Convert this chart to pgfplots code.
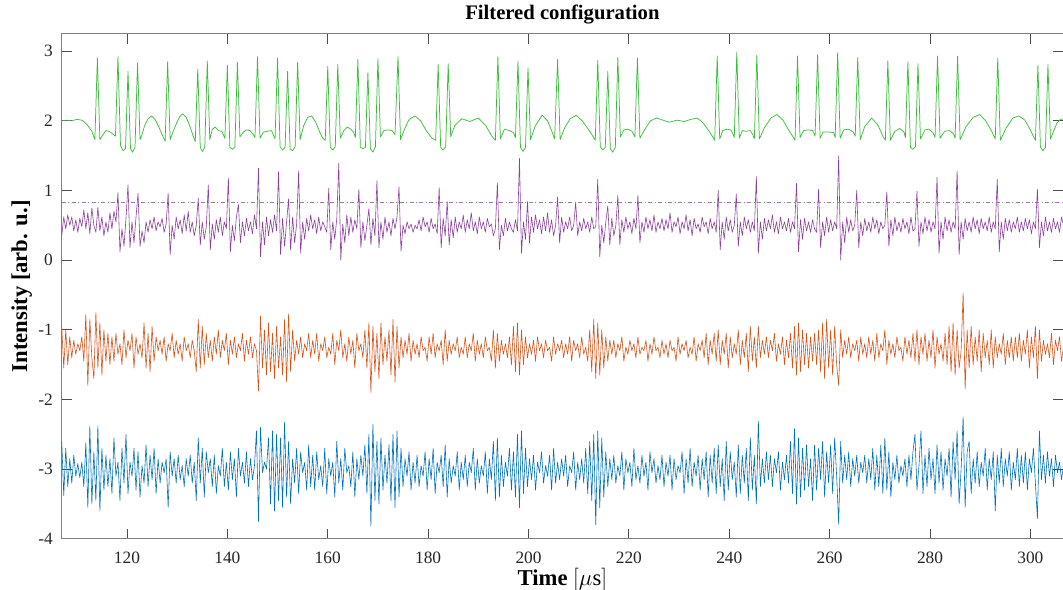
\documentclass[border=0pt]{standalone}
\usepackage{pgfplots}
\pgfplotsset{compat=1.18}
\usepackage{fontspec}
\setmainfont{Liberation Serif}
\definecolor{mblue}{rgb}{0,0.447,0.741}
\definecolor{morange}{rgb}{0.85,0.325,0.098}
\definecolor{mpurple}{rgb}{0.55,0.25,0.62}
\definecolor{mgreen}{rgb}{0.22,0.75,0.22}
\begin{document}
\begin{tikzpicture}
\begin{axis}[name=ax,
  scale only axis, width=750.75pt, height=378.75pt,
  xmin=107, xmax=306.5, ymin=-4, ymax=3.25,
  xtick={120,140,...,300}, ytick={-4,-3,...,3},
  tick align=inside, major tick length=7.5pt,
  axis line style={black!50, line width=0.6pt},
  tick style={black!70, line width=0.6pt},
  ticklabel style={font=\fontsize{13}{15}\selectfont, text=black!85},
  xticklabel style={anchor=base, inner sep=0pt, yshift=-18.75pt},
  yticklabel style={anchor=east, inner sep=0pt, xshift=-6.5pt},
  /pgf/number format/assume math mode=true,
  title={\textbf{Filtered configuration}},
  title style={at={(axis description cs:0.5,1.0132)}, anchor=base, inner sep=0pt, font=\fontsize{15.5}{18}\selectfont},
  xlabel={\textbf{Time} $[\mu\mathrm{s}]$},
  xlabel style={at={(axis description cs:0.5,-0.0925)}, anchor=base, inner sep=0pt, font=\fontsize{17}{20}\selectfont},
  ylabel={\textbf{Intensity [arb. u.]}},
  ylabel style={at={(axis description cs:-0.03463,0.5)}, anchor=base, inner sep=0pt, font=\fontsize{17}{20}\selectfont},
  every axis plot/.append style={line width=0.45pt, line join=round},
]
% blue
\addplot[mblue] table[x expr=107+0.4*\coordindex, y index=0, header=false, row sep=\\] {
-2.60\\-3.38\\-2.70\\-3.25\\-2.85\\-3.20\\-2.80\\-3.10\\-2.92\\-3.12\\-2.90\\-3.25\\-2.62\\-3.55\\-2.38\\-3.50\\-2.75\\-3.45\\-2.38\\-3.60\\-2.70\\-3.30\\-2.80\\-3.25\\-2.85\\
-3.35\\-2.55\\-3.10\\-2.90\\-3.45\\-2.70\\-3.20\\-2.50\\-3.35\\-2.90\\-3.10\\-2.70\\-3.30\\-2.75\\-3.40\\-2.95\\-3.20\\-2.65\\-3.25\\-2.80\\-3.15\\-2.70\\-3.35\\-2.85\\-3.20\\
-2.90\\-3.05\\-2.85\\-3.55\\-2.75\\-3.10\\-2.85\\-3.20\\-2.80\\-3.15\\-2.95\\-3.25\\-2.85\\-3.10\\-2.80\\-3.20\\-2.90\\-3.45\\-2.55\\-3.20\\-2.70\\-3.40\\-2.75\\-3.05\\-2.85\\
-3.25\\-2.80\\-3.35\\-2.95\\-3.10\\-2.70\\-3.25\\-2.90\\-3.30\\-2.75\\-3.15\\-2.85\\-3.40\\-2.70\\-3.10\\-2.90\\-3.20\\-2.75\\-3.25\\-2.85\\-3.15\\-2.95\\-2.45\\-3.75\\-2.40\\
-3.05\\-2.90\\-3.00\\-2.55\\-3.50\\-2.45\\-3.60\\-2.50\\-3.45\\-2.55\\-3.55\\-2.32\\-3.40\\-2.60\\-3.50\\-2.85\\-3.20\\-2.70\\-3.35\\-2.75\\-3.05\\-2.90\\-3.30\\-2.65\\-3.25\\
-2.80\\-3.30\\-2.75\\-3.15\\-2.95\\-3.25\\-2.70\\-3.35\\-2.85\\-3.10\\-2.90\\-3.40\\-2.60\\-3.20\\-2.85\\-3.30\\-2.70\\-3.05\\-2.95\\-3.25\\-2.75\\-3.40\\-2.85\\-3.15\\-2.80\\
-3.10\\-2.65\\-3.35\\-2.50\\-3.82\\-2.35\\-3.45\\-2.60\\-3.50\\-2.55\\-3.30\\-2.80\\-3.20\\-2.65\\-3.45\\-2.50\\-3.55\\-2.45\\-3.40\\-2.70\\-3.25\\-2.85\\-3.10\\-2.75\\-3.30\\
-2.90\\-3.20\\-2.80\\-3.25\\-2.95\\-3.10\\-2.75\\-3.30\\-2.85\\-3.15\\-2.70\\-3.35\\-2.90\\-3.05\\-2.80\\-3.25\\-2.65\\-3.40\\-2.85\\-3.20\\-2.95\\-3.10\\-2.75\\-3.30\\-2.90\\
-3.15\\-2.80\\-3.25\\-2.90\\-3.05\\-2.70\\-3.30\\-2.85\\-3.20\\-2.95\\-3.10\\-2.75\\-3.35\\-2.85\\-3.15\\-2.60\\-3.45\\-2.55\\-3.40\\-2.80\\-3.25\\-2.90\\-3.10\\-2.70\\-3.30\\
-2.75\\-3.40\\-2.50\\-3.55\\-2.45\\-3.35\\-2.70\\-3.25\\-2.85\\-3.15\\-2.80\\-3.30\\-2.90\\-3.05\\-2.75\\-3.20\\-2.95\\-3.10\\-2.80\\-3.30\\-2.70\\-3.20\\-2.90\\-3.15\\-2.85\\
-3.10\\-2.80\\-3.25\\-2.95\\-3.05\\-2.75\\-3.30\\-2.90\\-3.15\\-2.85\\-3.20\\-2.70\\-3.35\\-2.60\\-3.45\\-2.50\\-3.80\\-2.45\\-3.55\\-2.55\\-3.40\\-2.75\\-3.25\\-2.85\\-3.15\\
-2.80\\-3.20\\-2.95\\-3.10\\-2.75\\-3.30\\-2.85\\-3.05\\-2.90\\-3.25\\-2.70\\-3.15\\-2.95\\-3.20\\-2.80\\-3.10\\-2.90\\-3.30\\-2.75\\-3.05\\-2.85\\-3.20\\-2.95\\-3.15\\-2.80\\
-3.25\\-2.90\\-3.10\\-2.80\\-3.30\\-2.85\\-3.15\\-2.95\\-3.05\\-2.75\\-3.35\\-2.85\\-3.20\\-2.70\\-3.25\\-2.90\\-3.10\\-2.80\\-3.30\\-2.85\\-3.15\\-2.75\\-3.40\\-2.80\\-3.20\\
-2.70\\-3.35\\-2.65\\-3.25\\-2.85\\-3.45\\-2.60\\-3.30\\-2.75\\-3.15\\-2.90\\-3.40\\-2.65\\-3.35\\-2.80\\-3.20\\-2.70\\-3.45\\-2.55\\-3.30\\-2.80\\-3.50\\-2.31\\-3.25\\-2.85\\
-3.20\\-2.75\\-3.15\\-2.80\\-3.25\\-2.85\\-3.05\\-2.75\\-3.30\\-2.90\\-3.15\\-2.80\\-3.20\\-2.60\\-3.35\\-2.42\\-3.50\\-2.55\\-3.40\\-2.70\\-3.30\\-2.65\\-3.25\\-2.85\\-3.45\\
-2.65\\-3.30\\-2.70\\-3.15\\-2.60\\-3.40\\-2.75\\-3.20\\-2.65\\-3.35\\-2.55\\-3.10\\-3.79\\-2.60\\-3.20\\-2.80\\-3.15\\-2.75\\-3.25\\-2.85\\-3.10\\-2.80\\-3.20\\-2.90\\-3.05\\
-2.80\\-3.20\\-2.85\\-3.15\\-2.70\\-3.30\\-2.80\\-3.25\\-2.65\\-3.35\\-2.55\\-3.30\\-2.75\\-3.40\\-2.90\\-3.15\\-2.80\\-3.20\\-2.95\\-3.10\\-2.85\\-3.25\\-2.80\\-3.15\\-2.75\\
-2.50\\-3.30\\-2.95\\-2.45\\-3.35\\-2.80\\-3.25\\-2.70\\-3.15\\-2.85\\-3.35\\-2.65\\-3.20\\-2.75\\-3.30\\-2.85\\-3.10\\-2.70\\-3.40\\-2.60\\-3.15\\-2.45\\-3.50\\-3.00\\-2.25\\
-3.55\\-2.75\\-2.60\\-3.35\\-2.85\\-3.20\\-2.75\\-3.25\\-2.90\\-3.10\\-2.70\\-3.30\\-2.85\\-3.15\\-2.75\\-3.60\\-2.80\\-3.20\\-2.70\\-3.25\\-2.85\\-3.10\\-2.75\\-3.30\\-2.90\\
-3.15\\-2.70\\-3.25\\-2.80\\-3.20\\-2.75\\-3.30\\-2.85\\-3.05\\-2.70\\-3.20\\-3.71\\-2.45\\-3.15\\-2.80\\-3.20\\-2.75\\-3.10\\-2.85\\-3.25\\-2.80\\-3.05\\-2.90\\-3.15\\-2.95\\
};
% orange
\addplot[morange] table[x expr=107+0.4*\coordindex, y index=0, header=false, row sep=\\] {
-0.95\\-1.55\\-1.00\\-1.50\\-1.10\\-1.40\\-1.15\\-1.35\\-1.20\\-1.30\\-1.10\\-1.45\\-0.78\\-1.80\\-0.85\\-1.40\\-1.70\\-0.75\\-1.55\\-0.90\\-1.65\\-1.00\\-1.45\\-1.05\\-1.50\\
-1.10\\-1.45\\-1.05\\-1.35\\-1.20\\-1.50\\-1.00\\-1.40\\-1.15\\-1.30\\-1.05\\-1.55\\-1.10\\-1.35\\-1.20\\-1.40\\-0.90\\-1.55\\-1.05\\-1.60\\-0.95\\-1.45\\-1.10\\-1.30\\-1.15\\
-1.35\\-1.10\\-1.45\\-1.20\\-1.30\\-1.05\\-1.40\\-1.15\\-1.35\\-1.20\\-1.45\\-1.10\\-1.30\\-1.20\\-1.40\\-1.15\\-1.30\\-1.60\\-0.85\\-1.55\\-0.95\\-1.50\\-1.05\\-1.40\\-1.15\\
-1.45\\-1.10\\-1.35\\-1.00\\-1.40\\-1.15\\-1.30\\-1.05\\-1.50\\-1.15\\-1.35\\-1.10\\-1.40\\-1.20\\-1.30\\-1.05\\-1.45\\-1.15\\-1.35\\-1.10\\-1.40\\-1.20\\-1.30\\-1.88\\-0.80\\
-1.55\\-1.00\\-1.65\\-0.90\\-1.60\\-1.05\\-1.70\\-0.95\\-1.55\\-1.10\\-1.65\\-0.85\\-1.75\\-0.77\\-1.60\\-1.00\\-1.45\\-1.15\\-1.35\\-1.10\\-1.40\\-1.20\\-1.30\\-1.05\\-1.40\\
-1.15\\-1.35\\-1.05\\-1.45\\-1.20\\-1.30\\-1.10\\-1.40\\-1.25\\-1.35\\-1.05\\-1.50\\-1.15\\-1.30\\-1.00\\-1.40\\-1.20\\-1.45\\-1.10\\-1.35\\-1.15\\-1.55\\-1.05\\-1.30\\-1.20\\
-1.40\\-1.00\\-1.55\\-0.90\\-1.90\\-0.95\\-1.60\\-1.05\\-1.70\\-0.90\\-1.50\\-1.10\\-1.45\\-1.00\\-1.65\\-0.85\\-1.75\\-0.95\\-1.55\\-1.10\\-1.40\\-1.15\\-1.35\\-1.05\\-1.45\\
-1.15\\-1.35\\-1.20\\-1.40\\-1.10\\-1.30\\-1.25\\-1.45\\-1.10\\-1.35\\-1.05\\-1.40\\-1.20\\-1.30\\-1.15\\-1.50\\-1.00\\-1.45\\-1.15\\-1.35\\-1.20\\-1.30\\-1.10\\-1.40\\-1.25\\
-1.35\\-1.10\\-1.40\\-1.20\\-1.30\\-1.05\\-1.45\\-1.15\\-1.35\\-1.20\\-1.40\\-1.10\\-1.30\\-1.25\\-1.45\\-1.00\\-1.55\\-1.05\\-1.45\\-1.15\\-1.35\\-1.20\\-1.40\\-1.10\\-1.50\\
-0.95\\-1.60\\-0.90\\-1.65\\-1.00\\-1.50\\-1.10\\-1.40\\-1.20\\-1.35\\-1.15\\-1.45\\-1.10\\-1.30\\-1.20\\-1.40\\-1.15\\-1.30\\-1.25\\-1.45\\-1.10\\-1.35\\-1.20\\-1.30\\-1.15\\
-1.40\\-1.20\\-1.35\\-1.10\\-1.45\\-1.15\\-1.30\\-1.20\\-1.40\\-1.10\\-1.35\\-1.25\\-1.45\\-1.00\\-1.60\\-0.85\\-1.70\\-0.90\\-1.65\\-1.00\\-1.55\\-1.10\\-1.45\\-1.15\\-1.35\\
-1.15\\-1.40\\-1.20\\-1.30\\-1.10\\-1.45\\-1.25\\-1.35\\-1.15\\-1.30\\-1.20\\-1.40\\-1.10\\-1.35\\-1.25\\-1.30\\-1.15\\-1.45\\-1.20\\-1.35\\-1.10\\-1.30\\-1.25\\-1.40\\-1.15\\
-1.35\\-1.20\\-1.40\\-1.15\\-1.30\\-1.25\\-1.45\\-1.10\\-1.35\\-1.20\\-1.30\\-1.15\\-1.40\\-1.25\\-1.35\\-1.10\\-1.45\\-1.20\\-1.30\\-1.15\\-1.40\\-1.05\\-1.50\\-1.15\\-1.35\\
-1.05\\-1.45\\-1.00\\-1.50\\-1.15\\-1.35\\-1.05\\-1.55\\-1.10\\-1.40\\-1.20\\-1.35\\-1.00\\-1.50\\-1.15\\-1.40\\-1.05\\-1.60\\-0.95\\-1.45\\-1.10\\-1.55\\-0.95\\-1.40\\-1.15\\
-1.35\\-1.10\\-1.40\\-1.15\\-1.30\\-1.05\\-1.45\\-1.20\\-1.35\\-1.10\\-1.50\\-1.15\\-1.40\\-1.05\\-1.55\\-0.95\\-1.65\\-0.90\\-1.60\\-1.00\\-1.50\\-1.05\\-1.55\\-1.10\\-1.45\\
-1.05\\-1.50\\-1.00\\-1.60\\-0.90\\-1.70\\-0.85\\-1.55\\-1.00\\-1.65\\-0.95\\-1.50\\-1.80\\-1.00\\-1.40\\-1.15\\-1.35\\-1.10\\-1.40\\-1.20\\-1.30\\-1.15\\-1.45\\-1.10\\-1.35\\
-1.20\\-1.40\\-1.10\\-1.35\\-1.15\\-1.45\\-1.05\\-1.40\\-1.20\\-1.30\\-1.00\\-1.50\\-1.15\\-1.35\\-1.20\\-1.40\\-1.10\\-1.30\\-1.25\\-1.45\\-1.10\\-1.35\\-1.15\\-1.40\\-1.05\\
-1.45\\-1.00\\-1.50\\-1.10\\-1.35\\-1.05\\-1.45\\-1.15\\-1.40\\-1.00\\-1.55\\-1.10\\-1.35\\-1.20\\-1.45\\-1.05\\-1.50\\-0.95\\-1.60\\-0.90\\-1.65\\-1.00\\-1.55\\-1.30\\-0.47\\
-1.85\\-1.00\\-1.55\\-0.95\\-1.50\\-1.10\\-1.45\\-1.00\\-1.60\\-1.05\\-1.40\\-1.15\\-1.50\\-1.00\\-1.55\\-1.10\\-1.40\\-1.20\\-1.35\\-1.05\\-1.50\\-1.15\\-1.40\\-1.10\\-1.45\\
-1.10\\-1.40\\-1.05\\-1.45\\-1.15\\-1.35\\-1.00\\-1.55\\-1.10\\-1.40\\-0.95\\-1.70\\-1.00\\-1.45\\-1.15\\-1.35\\-1.20\\-1.40\\-1.05\\-1.50\\-1.15\\-1.30\\-1.10\\-1.45\\-1.25\\
};
% purple
\addplot[mpurple] table[x expr=107+0.4*\coordindex, y index=0, header=false, row sep=\\] {
0.35\\0.62\\0.45\\0.65\\0.50\\0.62\\0.42\\0.58\\0.40\\0.60\\0.48\\0.72\\0.45\\0.68\\0.38\\0.75\\0.50\\0.40\\0.76\\0.42\\0.62\\0.35\\0.55\\0.40\\0.68\\
0.45\\0.70\\0.55\\0.97\\0.12\\0.45\\0.20\\0.60\\1.08\\0.18\\0.55\\0.25\\0.62\\0.96\\0.20\\0.42\\0.25\\0.55\\0.40\\0.58\\0.45\\0.62\\0.42\\0.55\\0.48\\
0.60\\0.40\\0.52\\0.96\\0.08\\0.50\\0.30\\0.62\\0.45\\0.58\\0.38\\0.65\\0.42\\0.70\\0.40\\0.55\\0.35\\0.50\\0.89\\0.22\\0.55\\0.30\\0.48\\1.08\\0.15\\
0.52\\0.30\\0.58\\0.40\\0.62\\0.35\\0.55\\0.45\\1.18\\0.12\\0.50\\0.28\\0.62\\0.80\\0.25\\0.55\\0.35\\0.60\\0.42\\0.55\\0.38\\0.65\\0.45\\1.32\\0.05\\
0.55\\0.22\\0.62\\0.35\\0.58\\0.40\\0.65\\0.42\\1.27\\0.08\\0.60\\0.20\\0.55\\0.88\\0.15\\0.62\\0.25\\0.52\\1.28\\0.10\\0.55\\0.30\\0.60\\0.42\\0.65\\
0.45\\0.58\\0.38\\0.62\\0.42\\0.55\\0.48\\0.40\\1.03\\0.15\\0.55\\0.30\\0.60\\1.39\\0.00\\0.52\\0.25\\0.65\\0.35\\0.62\\0.40\\0.58\\0.45\\1.02\\0.18\\
0.55\\0.28\\0.50\\0.74\\0.22\\0.60\\0.35\\1.14\\0.18\\0.55\\0.30\\0.62\\0.40\\0.55\\0.35\\0.60\\0.45\\0.62\\1.05\\0.13\\0.50\\0.38\\0.55\\0.45\\0.52\\
0.40\\0.50\\0.45\\0.58\\0.42\\0.62\\0.48\\0.55\\0.40\\0.60\\0.45\\0.52\\0.38\\1.04\\0.18\\0.60\\0.35\\0.84\\0.22\\0.58\\0.32\\0.62\\0.40\\0.55\\0.45\\
0.65\\0.40\\0.58\\0.45\\0.68\\0.42\\0.55\\0.38\\0.62\\0.45\\0.55\\0.40\\0.60\\0.48\\0.52\\0.35\\0.45\\1.11\\0.15\\0.50\\0.35\\0.60\\0.42\\0.55\\0.45\\
0.40\\0.58\\0.42\\1.46\\0.10\\0.55\\0.30\\0.84\\0.25\\0.62\\0.40\\0.65\\0.45\\0.58\\0.38\\0.62\\0.42\\0.68\\0.40\\0.58\\0.35\\0.50\\0.91\\0.25\\0.62\\
0.40\\0.55\\0.45\\0.62\\0.42\\0.50\\0.83\\0.35\\0.55\\0.42\\0.60\\0.45\\0.55\\0.40\\0.62\\0.45\\0.48\\1.16\\0.05\\0.50\\0.25\\0.55\\0.78\\0.22\\0.60\\
0.35\\0.50\\0.93\\0.22\\0.58\\0.40\\0.62\\0.45\\0.55\\0.38\\0.60\\0.45\\0.93\\0.25\\0.55\\0.40\\0.62\\0.45\\0.58\\0.42\\0.65\\0.40\\0.55\\0.45\\0.60\\
0.42\\0.58\\0.45\\0.68\\0.40\\0.55\\0.48\\0.62\\0.38\\0.55\\0.45\\0.65\\0.42\\0.58\\0.35\\0.60\\0.45\\0.52\\0.40\\0.62\\0.48\\0.55\\0.38\\0.60\\0.45\\
0.55\\0.40\\1.00\\0.15\\0.55\\0.30\\0.62\\0.42\\0.58\\0.40\\0.50\\0.95\\0.20\\0.55\\0.35\\0.62\\0.45\\0.58\\0.40\\0.55\\0.42\\1.20\\0.10\\0.55\\0.30\\
0.60\\0.42\\0.58\\0.45\\0.65\\0.40\\0.55\\0.38\\0.62\\0.45\\0.55\\0.42\\0.60\\0.40\\0.55\\0.45\\1.10\\0.12\\0.58\\0.30\\0.60\\0.42\\0.55\\0.40\\0.58\\
0.45\\0.40\\1.02\\0.18\\0.55\\0.35\\0.62\\0.40\\0.58\\0.42\\0.55\\0.45\\1.50\\0.00\\0.55\\0.25\\0.62\\0.40\\0.58\\0.42\\0.50\\1.00\\0.18\\0.55\\0.35\\
0.60\\0.42\\0.55\\0.40\\0.62\\0.45\\0.58\\0.38\\0.55\\0.45\\0.50\\0.98\\0.20\\0.58\\0.35\\0.62\\0.42\\0.55\\0.40\\0.60\\0.45\\0.55\\0.38\\0.62\\0.42\\
0.45\\0.99\\0.20\\0.55\\0.38\\0.62\\0.42\\0.58\\0.40\\0.55\\0.45\\1.19\\0.10\\0.55\\0.30\\0.62\\0.42\\0.58\\0.40\\0.55\\0.45\\1.28\\0.08\\0.55\\0.30\\
0.60\\0.42\\0.55\\0.40\\0.62\\0.45\\0.58\\0.38\\0.60\\0.45\\0.55\\0.42\\0.62\\0.40\\0.55\\0.45\\1.16\\0.12\\0.55\\0.30\\0.60\\0.42\\0.58\\0.40\\0.55\\
0.45\\0.62\\0.40\\0.55\\0.42\\0.60\\0.45\\0.58\\0.38\\0.55\\0.45\\1.02\\0.18\\0.55\\0.35\\0.62\\0.42\\0.55\\0.40\\0.60\\0.45\\0.55\\0.40\\0.62\\0.50\\
};
\addplot[mpurple!75, dash dot, line width=0.5pt] coordinates {(107,0.83) (306.5,0.83)};
% green
\addplot[mgreen, line width=0.55pt] table[row sep=\\, header=false] {
107 2.00\\108 2.01\\109 2.00\\110 2.02\\111 2.01\\112 1.95\\113 1.85\\113.6 1.73\\
114.1 2.90\\114.6 1.73\\115.2 1.80\\115.8 1.86\\116.4 1.85\\117.0 1.82\\117.7 1.78\\
118.2 2.92\\118.7 1.65\\119.2 1.57\\119.7 1.60\\
120.2 2.71\\120.7 1.60\\121.1 1.55\\121.6 1.62\\
122.1 2.83\\122.6 1.73\\123.0 1.80\\123.5 1.93\\124.2 2.03\\124.9 2.07\\125.6 2.02\\126.3 1.92\\127.0 1.80\\127.6 1.71\\
128.1 2.85\\128.6 1.73\\129.2 1.85\\129.9 1.97\\130.5 2.06\\131.1 2.10\\131.8 2.05\\132.5 1.93\\133.1 1.80\\133.6 1.70\\
134.1 2.74\\134.6 1.62\\135.0 1.56\\135.5 1.62\\
136.0 2.86\\136.5 1.73\\137.0 1.88\\137.6 1.91\\138.2 1.86\\138.9 1.85\\139.5 1.75\\
140.0 2.80\\140.5 1.62\\141.0 1.59\\141.5 1.63\\
142.0 2.84\\142.5 1.77\\143.2 1.84\\143.8 1.87\\144.5 1.86\\145.0 1.82\\145.5 1.76\\
146.0 2.92\\146.5 1.75\\147.2 1.84\\148.0 1.85\\148.8 1.86\\149.5 1.74\\
150.0 2.90\\150.5 1.63\\151.0 1.58\\151.5 1.62\\
152.0 2.71\\152.5 1.60\\153.0 1.57\\153.5 1.63\\
154.0 2.84\\154.5 1.73\\155.2 1.93\\156.0 2.05\\156.8 2.07\\157.6 1.98\\158.4 1.84\\159.0 1.75\\159.5 1.72\\
160.0 2.78\\160.5 1.62\\161.0 1.58\\161.5 1.63\\
162.0 2.81\\162.5 1.75\\163.2 1.86\\163.9 1.91\\164.6 1.88\\165.2 1.83\\165.5 1.76\\
166.0 2.88\\166.5 1.62\\167.0 1.60\\167.5 1.62\\
168.0 2.69\\168.5 1.60\\169.0 1.55\\169.5 1.63\\
170.0 2.89\\170.5 1.77\\171.2 1.86\\172.0 1.87\\172.8 1.86\\173.4 1.80\\
174.0 2.92\\174.5 1.73\\175.3 1.88\\176.2 2.02\\177.4 2.07\\178.5 2.00\\179.7 1.85\\180.8 1.75\\181.5 1.72\\
182.0 2.81\\182.5 1.62\\183.0 1.58\\183.5 1.63\\
184.0 2.82\\184.5 1.77\\185.3 1.93\\186.7 2.03\\188.3 1.99\\190.0 2.04\\191.5 1.93\\192.7 1.78\\193.4 1.72\\
193.9 2.92\\194.4 1.74\\195.2 1.88\\196.2 1.86\\197.0 1.83\\197.4 1.76\\
197.9 2.86\\198.4 1.62\\198.9 1.56\\199.4 1.62\\
199.9 2.76\\200.4 1.73\\201.3 1.92\\202.7 2.08\\203.8 2.00\\204.6 1.86\\205.2 1.74\\
205.8 2.88\\206.3 1.73\\207.2 1.90\\208.3 2.03\\209.5 2.08\\210.7 2.00\\211.9 1.88\\212.9 1.77\\213.3 1.72\\
213.8 2.87\\214.3 1.63\\214.8 1.58\\215.3 1.62\\
215.8 2.71\\216.3 1.60\\216.8 1.55\\217.3 1.62\\
217.8 2.91\\218.3 1.77\\219.0 1.87\\219.8 1.88\\220.6 1.85\\221.2 1.77\\
221.7 2.90\\222.2 1.75\\223.2 1.88\\224.3 2.00\\225.5 2.04\\226.8 2.01\\228.0 1.98\\229.6 2.01\\231.0 1.99\\232.3 2.02\\233.6 2.04\\234.8 1.97\\236.0 1.85\\236.8 1.76\\237.1 1.72\\
237.6 2.93\\238.1 1.74\\238.7 1.86\\239.5 1.88\\240.3 1.87\\240.7 1.82\\241.0 1.76\\
241.5 2.98\\242.0 1.75\\242.6 1.86\\243.4 1.85\\244.2 1.86\\244.7 1.80\\245.0 1.74\\
245.5 2.94\\246.0 1.74\\247.0 1.90\\248.3 2.04\\249.5 2.09\\250.7 2.01\\251.9 1.86\\252.8 1.76\\253.1 1.72\\
253.6 2.93\\254.1 1.76\\254.8 1.86\\255.8 1.87\\256.6 1.86\\257.1 1.78\\
257.6 2.95\\258.1 1.75\\258.7 1.84\\259.8 1.84\\260.8 1.83\\261.1 1.76\\
261.6 2.98\\262.1 1.75\\262.8 1.87\\263.8 1.88\\264.7 1.84\\265.1 1.78\\
265.6 2.91\\266.1 1.73\\267.0 1.92\\268.4 2.04\\269.7 1.93\\270.6 1.78\\271.1 1.72\\
271.6 2.86\\272.1 1.72\\273.0 1.85\\274.0 1.89\\274.8 1.84\\275.1 1.76\\
275.6 2.85\\276.1 1.62\\276.6 1.59\\277.1 1.63\\
277.6 2.82\\278.1 1.74\\279.0 1.87\\279.8 1.88\\280.6 1.83\\281.0 1.76\\
281.5 2.93\\282.0 1.75\\282.9 1.85\\283.9 1.86\\284.7 1.81\\285.0 1.75\\
285.5 2.93\\286.0 1.73\\287.2 1.92\\288.6 2.05\\289.9 2.09\\291.1 2.00\\292.3 1.85\\293.0 1.74\\
293.5 2.90\\294.0 1.72\\295.2 1.90\\296.5 2.04\\297.7 2.07\\298.9 2.01\\300.0 1.87\\300.7 1.76\\301.0 1.72\\
301.5 2.80\\302.0 1.62\\302.5 1.57\\303.0 1.62\\
303.5 2.81\\304.0 1.74\\304.6 1.85\\305.3 1.97\\306.0 2.02\\306.5 2.03\\
};
\end{axis}
\pgfresetboundingbox
\useasboundingbox ([xshift=-46.3pt,yshift=-38.25pt]ax.south west) rectangle ([yshift=25.3pt]ax.north east);
\end{tikzpicture}
\end{document}
